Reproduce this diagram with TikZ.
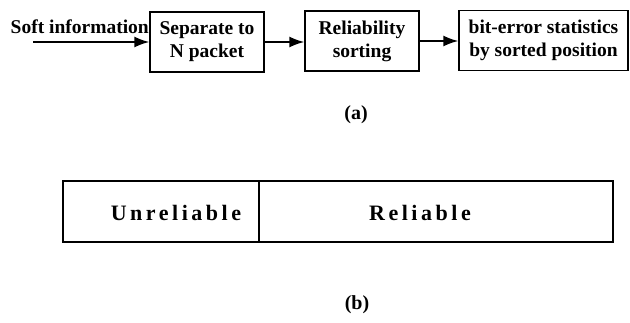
\documentclass[tikz,border=0pt]{standalone}
\usepackage{fontspec}
\setmainfont{Liberation Serif}
\newfontfamily\widefont[LetterSpace=16]{Liberation Serif}
\usetikzlibrary{arrows.meta}

\tikzset{
  block/.style={draw, line width=1.4pt, minimum height=60pt, align=center,
    font=\bfseries\fontsize{19.5}{23}\selectfont},
  flow/.style={line width=1.6pt, -{Latex[length=15pt,width=11pt]}},
  part/.style={draw, line width=1.4pt, minimum height=61pt, inner sep=0pt},
  tag/.style={font=\bfseries\fontsize{20}{22}\selectfont}
}

\begin{document}
\begin{tikzpicture}[x=1pt,y=-1pt]
  \useasboundingbox (0,0) rectangle (630,323);

  % processing chain
  \node[block, minimum width=114pt] (sep) at (207,42) {Separate to\\N packet};
  \node[block, minimum width=114pt] (sorting) at (362,41) {Reliability\\sorting};
  \node[block, minimum width=169pt] (stats) at (543.5,40.5) {bit-error statistics\\by sorted position};

  % input
  \coordinate (src) at (33,42);
  \node[anchor=east, inner sep=0pt, font=\bfseries\fontsize{19.5}{23}\selectfont] (soft) at (149,27) {Soft information};

  \draw[flow] (src) -- (sep.west);
  \draw[flow] (sep.east) -- (sep.east -| sorting.west);
  \draw[flow] (sorting.east) -- (sorting.east -| stats.west);

  \node[tag] (capa) at (356,115) {(a)};

  % packet split
  \node[part, minimum width=196pt] (unrel) at (161,211.5) {};
  \node[part, minimum width=354pt] (rel) at (436,211.5) {};
  \node[font=\widefont\bfseries\fontsize{22}{24}\selectfont] (unrellabel) at (176,213) {Unreliable};
  \node[font=\widefont\bfseries\fontsize{22}{24}\selectfont] (rellabel) at (420,213) {Reliable};

  \node[tag] (capb) at (357,305) {(b)};
\end{tikzpicture}
\end{document}
